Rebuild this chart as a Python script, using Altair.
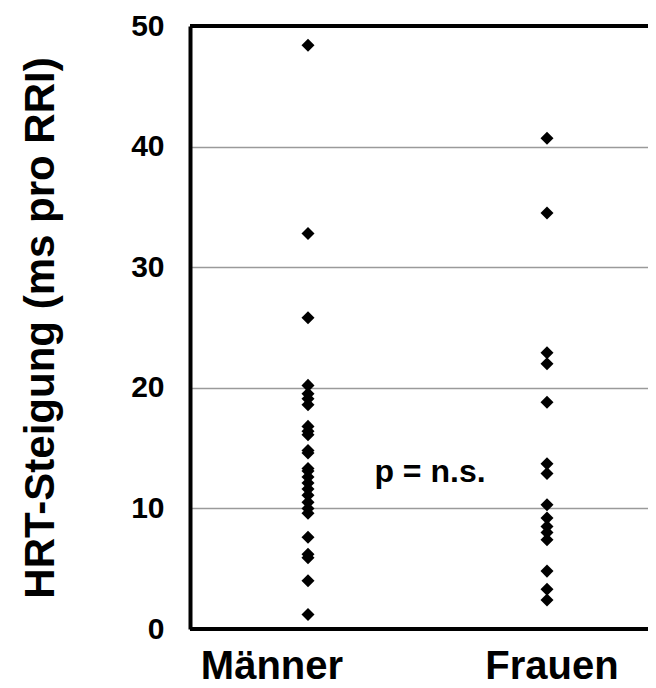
import altair as alt
import pandas as pd

# ---- data ----
categories = ["Männer", "Frauen"]
maenner = [48.4, 32.8, 25.8, 20.2, 19.5, 19.1, 18.6, 16.8, 16.4, 16.1, 14.8, 14.6,
           13.3, 13.1, 12.6, 12.1, 11.6, 11.1, 10.5, 10.0, 9.6, 7.6, 6.2, 5.9, 4.0, 1.2]
frauen = [40.7, 34.5, 22.9, 22.0, 18.8, 13.7, 12.9, 10.3, 9.2, 8.5, 8.0, 7.4, 4.8, 3.3, 2.4]
y_ticks = [0, 10, 20, 30, 40, 50]
y_title = "HRT-Steigung (ms pro RRI)"
p_text = ["p = n.s."]
p_text_y = [12.2]
border_values = [0, 50]
label_dx = [-36, 5]

FONT = "Liberation Sans"
W, H = 458, 603

df = pd.DataFrame({
    "gruppe": [categories[0]] * len(maenner) + [categories[1]] * len(frauen),
    "wert": maenner + frauen,
})

x_scale = alt.Scale(domain=categories, range=[0, 475], padding=0.4937)
y_scale = alt.Scale(domain=[0, 50], nice=False, zero=True)

points = alt.Chart(df).mark_point(
    shape="diamond", filled=True, size=170, color="black", opacity=1
).encode(
    x=alt.X("gruppe:N", scale=x_scale, axis=None),
    y=alt.Y("wert:Q", scale=y_scale, axis=alt.Axis(
        values=y_ticks, grid=True, gridColor="#9a9a9a", gridWidth=1.5,
        ticks=False, domainColor="black", domainWidth=4,
        labelFont=FONT, labelFontSize=30, labelFontWeight="bold", labelColor="black",
        labelPadding=26,
        title=y_title, titleFont=FONT, titleFontSize=42, titleFontWeight="bold",
        titleColor="black", titleAngle=-90, titleAlign="center",
        titleBaseline="alphabetic", titleX=-137, titleY=301.5,
    )),
)

borders = alt.Chart(pd.DataFrame({"v": border_values})).mark_rule(
    color="black", strokeWidth=4
).encode(y=alt.Y("v:Q", scale=y_scale))

lab_df = pd.DataFrame({"gruppe": categories})
cat_labels = []
for cat, dx in zip(categories, label_dx):
    cat_labels.append(
        alt.Chart(lab_df).transform_filter(alt.datum.gruppe == cat).mark_text(
            font=FONT, fontSize=40, fontWeight="bold", color="black",
            baseline="alphabetic", align="center", dx=dx
        ).encode(
            x=alt.X("gruppe:N", scale=x_scale, axis=None),
            y=alt.value(H + 50),
            text="gruppe:N",
        )
    )

p_df = pd.DataFrame({"t": p_text, "gruppe": [categories[0]], "v": p_text_y})
p_label = alt.Chart(p_df).mark_text(
    font=FONT, fontSize=32, fontWeight="bold", color="black",
    baseline="alphabetic", align="center", dx=122
).encode(
    x=alt.X("gruppe:N", scale=x_scale, axis=None),
    y=alt.Y("v:Q", scale=y_scale),
    text="t:N",
)

chart = alt.layer(borders, points, p_label, *cat_labels).properties(
    width=W, height=H,
    autosize=alt.AutoSizeParams(type="none"),
    padding={"left": 182, "top": 18, "right": 0, "bottom": 60},
).configure_view(stroke=None).configure(background="white")

chart.save("out.html", embed_options={"renderer": "svg", "actions": False})
